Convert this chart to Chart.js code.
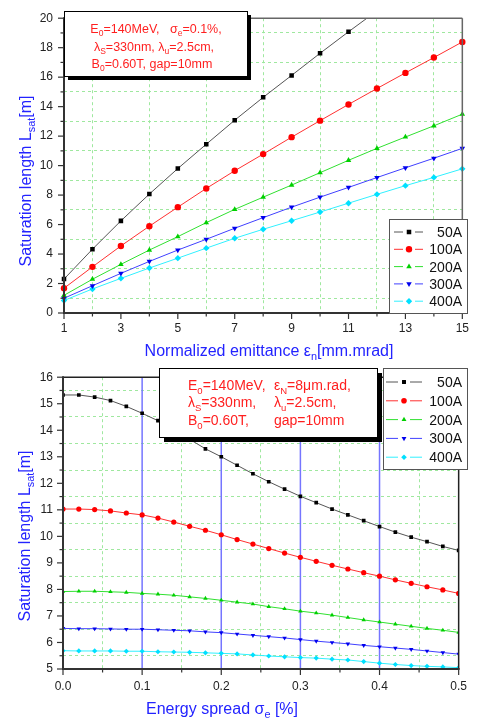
<!DOCTYPE html>
<html>
<head>
<meta charset="utf-8">
<script src="https://cdn.jsdelivr.net/npm/chart.js@4.4.1/dist/chart.umd.min.js"></script>
<style>
body{margin:0;background:#fff;}
#wrap{position:relative;width:477px;height:721px;}
canvas{position:absolute;left:0;}
</style>
</head>
<body>
<div id="wrap">
<canvas id="emit" width="477" height="360" style="top:0"></canvas>
<canvas id="spread" width="477" height="361" style="top:360px"></canvas>
</div>
<script>
// ---- DATA: saturation length vs normalized emittance ----
var emittance = [1,2,3,4,5,6,7,8,9,10,11,12,13,14,15];
var emit50A  = [2.3,4.33,6.25,8.07,9.8,11.45,13.08,14.63,16.12,17.62,19.08,20.5];
var emit100A = [1.68,3.13,4.55,5.89,7.18,8.45,9.65,10.78,11.93,13.05,14.15,15.23,16.29,17.33,18.39];
var emit200A = [1.2,2.29,3.3,4.27,5.18,6.13,7.03,7.86,8.68,9.52,10.36,11.17,11.94,12.7,13.49];
var emit300A = [1.0,1.85,2.69,3.5,4.27,5.0,5.75,6.47,7.18,7.86,8.52,9.19,9.85,10.5,11.17];
var emit400A = [0.85,1.63,2.35,3.05,3.72,4.4,5.07,5.68,6.26,6.85,7.45,8.05,8.64,9.2,9.78];

// ---- DATA: saturation length vs energy spread ----
var spread = [0,0.02,0.04,0.06,0.08,0.1,0.12,0.14,0.16,0.18,0.2,0.22,0.24,0.26,0.28,0.3,0.32,0.34,0.36,0.38,0.4,0.42,0.44,0.46,0.48,0.5];
var spr50A  = [15.33,15.33,15.25,15.12,14.9,14.64,14.36,14.02,13.66,13.3,13.0,12.68,12.36,12.06,11.78,11.51,11.27,11.03,10.81,10.59,10.37,10.16,9.97,9.8,9.62,9.47];
var spr100A = [11.03,11.03,11.01,10.96,10.88,10.81,10.69,10.54,10.38,10.23,10.06,9.88,9.71,9.54,9.37,9.21,9.06,8.91,8.77,8.63,8.5,8.36,8.23,8.1,7.98,7.85];
var spr200A = [7.92,7.93,7.93,7.91,7.89,7.85,7.82,7.78,7.72,7.66,7.59,7.52,7.45,7.35,7.27,7.18,7.11,7.03,6.94,6.85,6.77,6.69,6.61,6.53,6.46,6.38];
var spr300A = [6.53,6.52,6.52,6.51,6.5,6.5,6.48,6.46,6.44,6.4,6.37,6.32,6.27,6.22,6.17,6.11,6.05,6.0,5.95,5.89,5.84,5.79,5.74,5.68,5.62,5.56];
var spr400A = [5.69,5.68,5.68,5.68,5.67,5.67,5.65,5.64,5.63,5.61,5.59,5.57,5.53,5.49,5.46,5.43,5.41,5.37,5.34,5.28,5.22,5.17,5.13,5.1,5.08,5.05];

var seriesLabels = ['50A','100A','200A','300A','400A'];
var blueLines = [0.1,0.2,0.3,0.4];

// text of the two parameter boxes (_{..} = subscript)
var emitBoxText = ['E_{0}=140MeV,   \u03c3_{e}=0.1%,', '\u03bb_{S}=330nm, \u03bb_{u}=2.5cm,', 'B_{0}=0.60T, gap=10mm'];
var spreadBoxCol1 = ['E_{0}=140MeV,', '\u03bb_{S}=330nm,', 'B_{0}=0.60T,'];
var spreadBoxCol2 = ['\u03b5_{N}=8\u03bcm.rad,', '\u03bb_{u}=2.5cm,', 'gap=10mm'];

var FONT = '"Liberation Sans", Arial, sans-serif';
var GRID = '#9fe89f';
var TITLE_BLUE = '#2323ff';

var looks = [
  {line:'#555555', pt:'#000000', shape:'rect',     rot:0},
  {line:'#ff3030', pt:'#ff0000', shape:'circle',   rot:0},
  {line:'#30e030', pt:'#00d000', shape:'triangle', rot:0},
  {line:'#4040ff', pt:'#0000ee', shape:'triangle', rot:180},
  {line:'#30f0ff', pt:'#00e0ff', shape:'rectRot',  rot:0}
];

function makeSet(i, xs, ys, r, clip){
  var st = looks[i];
  return {
    label: seriesLabels[i],
    data: ys.map(function(y, k){ return {x: xs[k], y: y}; }),
    borderColor: st.line, borderWidth: 1,
    pointBackgroundColor: st.pt, pointBorderColor: st.pt, pointBorderWidth: 0,
    pointStyle: st.shape, pointRotation: st.rot, pointRadius: r,
    clip: clip
  };
}

// subscript aware text
function richParts(str){
  var out = [], re = /_\{([^}]*)\}/g, last = 0, m;
  while ((m = re.exec(str))) {
    if (m.index > last) out.push([str.slice(last, m.index), 0]);
    out.push([m[1], 1]);
    last = re.lastIndex;
  }
  if (last < str.length) out.push([str.slice(last), 0]);
  return out;
}
function drawRich(ctx, str, x, y, size, color, align){
  var parts = richParts(str), w = 0;
  parts.forEach(function(p){ ctx.font = (p[1] ? size*0.68 : size) + 'px ' + FONT; w += ctx.measureText(p[0]).width; });
  var cx = align === 'center' ? x - w/2 : (align === 'right' ? x - w : x);
  var base = y + size*0.36;
  ctx.fillStyle = color; ctx.textAlign = 'left'; ctx.textBaseline = 'alphabetic';
  parts.forEach(function(p){
    ctx.font = (p[1] ? size*0.68 : size) + 'px ' + FONT;
    ctx.fillText(p[0], cx, p[1] ? base + size*0.27 : base);
    cx += ctx.measureText(p[0]).width;
  });
}

function line(ctx, x1, y1, x2, y2){ ctx.beginPath(); ctx.moveTo(x1,y1); ctx.lineTo(x2,y2); ctx.stroke(); }

var originPlugin = {
  id: 'origin',
  beforeDatasetsDraw: function(chart, args, o){
    if (!o.vlines) return;
    var ctx = chart.ctx, a = chart.chartArea, xs = chart.scales.x;
    ctx.save();
    ctx.strokeStyle = '#7575ff'; ctx.lineWidth = 1.5;
    o.vlines.forEach(function(v){ var px = xs.getPixelForValue(v); line(ctx, px, a.top, px, a.bottom); });
    ctx.restore();
  },
  afterDatasetsDraw: function(chart, args, o){
    var ctx = chart.ctx, a = chart.chartArea, xs = chart.scales.x, ys = chart.scales.y;
    ctx.save();
    // frame
    ctx.strokeStyle = o.frameColor; ctx.lineWidth = 1.5;
    line(ctx, a.left, a.top, a.right, a.top);
    line(ctx, a.right, a.top, a.right, a.bottom);
    ctx.strokeStyle = '#333'; ctx.lineWidth = 2;
    line(ctx, a.left, a.top - 1, a.left, a.bottom + 1);
    line(ctx, a.left - 1, a.bottom, a.right + 1, a.bottom);
    // tick marks, long on labelled ticks
    ctx.lineWidth = 1.2;
    ys.ticks.forEach(function(t){
      var py = ys.getPixelForValue(t.value), len = t.label !== '' ? 6 : 3.5;
      line(ctx, a.left - len, py, a.left, py);
    });
    xs.ticks.forEach(function(t){
      var px = xs.getPixelForValue(t.value), len = t.label !== '' ? 6 : 3.5;
      line(ctx, px, a.bottom, px, a.bottom + len);
    });
    // parameter box with shadow
    var b = o.box;
    ctx.fillStyle = '#000'; ctx.fillRect(b.x + b.sh, b.y + b.sh, b.w, b.h);
    ctx.fillStyle = '#fff'; ctx.fillRect(b.x, b.y, b.w, b.h);
    ctx.strokeStyle = '#000'; ctx.lineWidth = 1; ctx.strokeRect(b.x + 0.5, b.y + 0.5, b.w, b.h);
    b.lines.forEach(function(l){ drawRich(ctx, l.t, l.x, l.y, b.size, '#ff1f1f', l.align); });
    // legend
    var L = o.legend;
    ctx.fillStyle = '#fff'; ctx.fillRect(L.x, L.y, L.w, L.h);
    ctx.strokeStyle = '#555'; ctx.lineWidth = 1; ctx.strokeRect(L.x + 0.5, L.y + 0.5, L.w, L.h);
    chart.data.datasets.forEach(function(ds, i){
      var y = L.y0 + i * L.dy;
      ctx.strokeStyle = ds.borderColor; ctx.lineWidth = 1;
      line(ctx, L.x1, y, L.mx - 6, y);
      line(ctx, L.mx + 6, y, L.x2, y);
      ctx.fillStyle = ds.pointBackgroundColor; ctx.strokeStyle = ds.pointBorderColor;
      Chart.helpers.drawPoint(ctx, {pointStyle: ds.pointStyle, rotation: ds.pointRotation, radius: L.r, borderWidth: 0}, L.mx, y);
      drawRich(ctx, ds.label, L.lx, y, L.size, '#111', 'right');
    });
    // axis titles
    drawRich(ctx, o.xTitle.t, o.xTitle.x, o.xTitle.y, 16, TITLE_BLUE, 'center');
    ctx.translate(o.yTitle.x, o.yTitle.y);
    ctx.rotate(-Math.PI/2);
    drawRich(ctx, o.yTitle.t, 0, 0, 16, TITLE_BLUE, 'center');
    ctx.restore();
  }
};

function tickFont(){ return {size: 12, family: FONT}; }
var clear = 'rgba(0,0,0,0)';

// TOP CHART
var emitSets = [emit50A, emit100A, emit200A, emit300A, emit400A].map(function(ys, i){
  return makeSet(i, emittance, ys, 3.2, {left: 6, top: 0, right: 6, bottom: 6});
});
new Chart(document.getElementById('emit'), {
  type: 'line',
  data: {datasets: emitSets},
  plugins: [originPlugin],
  options: {
    responsive: false, animation: false, devicePixelRatio: 1,
    layout: {padding: {left: 0, right: 10, top: 11, bottom: 7}},
    scales: {
      x: {type: 'linear', min: 1, max: 15,
          afterFit: function(s){ s.height = 40; },
          ticks: {stepSize: 1, autoSkip: false, maxRotation: 0, padding: 8, color: '#222', font: tickFont(),
                  callback: function(v){ return v % 2 === 1 ? v : ''; }},
          grid: {drawTicks: false, lineWidth: 1,
                 color: function(c){ return (c.tick && c.tick.value % 2 === 0) ? GRID : clear; }},
          border: {display: false, dash: [3,3]}},
      y: {type: 'linear', min: 0, max: 20,
          afterFit: function(s){ s.width = 64; },
          ticks: {stepSize: 1, autoSkip: false, padding: 11, color: '#222', font: tickFont(),
                  callback: function(v){ return v % 2 === 0 ? v : ''; }},
          grid: {drawTicks: false, lineWidth: 1,
                 color: function(c){ return (c.tick && c.tick.value % 2 === 1) ? GRID : clear; }},
          border: {display: false, dash: [3,3]}}
    },
    plugins: {
      legend: {display: false}, tooltip: {enabled: false},
      origin: {
        frameColor: '#666',
        xTitle: {t: 'Normalized emittance \u03b5_{n}[mm.mrad]', x: 269, y: 350},
        yTitle: {t: 'Saturation length L_{sat}[m]', x: 25, y: 181},
        box: {x: 64, y: 11, w: 183, h: 65, sh: 4, size: 12.5, lines: [
          {t: emitBoxText[0], x: 156, y: 28, align: 'center'},
          {t: emitBoxText[1], x: 154, y: 46, align: 'center'},
          {t: emitBoxText[2], x: 152, y: 63, align: 'center'}
        ]},
        legend: {x: 389, y: 219, w: 78, h: 94, y0: 232, dy: 17.3, x1: 394, x2: 423, mx: 409, r: 3.2, lx: 462, size: 14}
      }
    }
  }
});

// BOTTOM CHART
var spreadSets = [spr50A, spr100A, spr200A, spr300A, spr400A].map(function(ys, i){
  return makeSet(i, spread, ys, 2.6, undefined);
});
new Chart(document.getElementById('spread'), {
  type: 'line',
  data: {datasets: spreadSets},
  plugins: [originPlugin],
  options: {
    responsive: false, animation: false, devicePixelRatio: 1,
    layout: {padding: {left: 0, right: 10, top: 8, bottom: 7}},
    scales: {
      x: {type: 'linear', min: 0, max: 0.5,
          afterFit: function(s){ s.height = 45; },
          ticks: {stepSize: 0.05, autoSkip: false, maxRotation: 0, padding: 10, color: '#222', font: tickFont(),
                  callback: function(v){ var k = Math.round(v * 20); return k % 2 === 0 ? (k / 20).toFixed(1) : ''; }},
          grid: {drawTicks: false, lineWidth: 1,
                 color: function(c){ return (c.tick && Math.round(c.tick.value * 20) % 2 === 1) ? GRID : clear; }},
          border: {display: false, dash: [3,3]}},
      y: {type: 'linear', min: 5, max: 16,
          afterFit: function(s){ s.width = 63; },
          ticks: {stepSize: 0.5, autoSkip: false, padding: 10, color: '#222', font: tickFont(),
                  callback: function(v){ return Number.isInteger(v) ? v : ''; }},
          grid: {drawTicks: false, lineWidth: 1,
                 color: function(c){ return (c.tick && !Number.isInteger(c.tick.value)) ? GRID : clear; }},
          border: {display: false, dash: [3,3]}}
    },
    plugins: {
      legend: {display: false}, tooltip: {enabled: false},
      origin: {
        frameColor: '#222',
        vlines: blueLines,
        xTitle: {t: 'Energy spread \u03c3_{e} [%]', x: 222, y: 348},
        yTitle: {t: 'Saturation length L_{sat}[m]', x: 24, y: 176},
        box: {x: 159, y: 8, w: 218, h: 69, sh: 5, size: 14, lines: [
          {t: spreadBoxCol1[0], x: 188, y: 25}, {t: spreadBoxCol2[0], x: 274, y: 25},
          {t: spreadBoxCol1[1], x: 188, y: 42}, {t: spreadBoxCol2[1], x: 274, y: 42},
          {t: spreadBoxCol1[2], x: 188, y: 60}, {t: spreadBoxCol2[2], x: 274, y: 60}
        ]},
        legend: {x: 383, y: 8, w: 84, h: 101, y0: 22, dy: 18.8, x1: 386, x2: 422, mx: 404, r: 2.8, lx: 462, size: 14}
      }
    }
  }
});
</script>
</body>
</html>
